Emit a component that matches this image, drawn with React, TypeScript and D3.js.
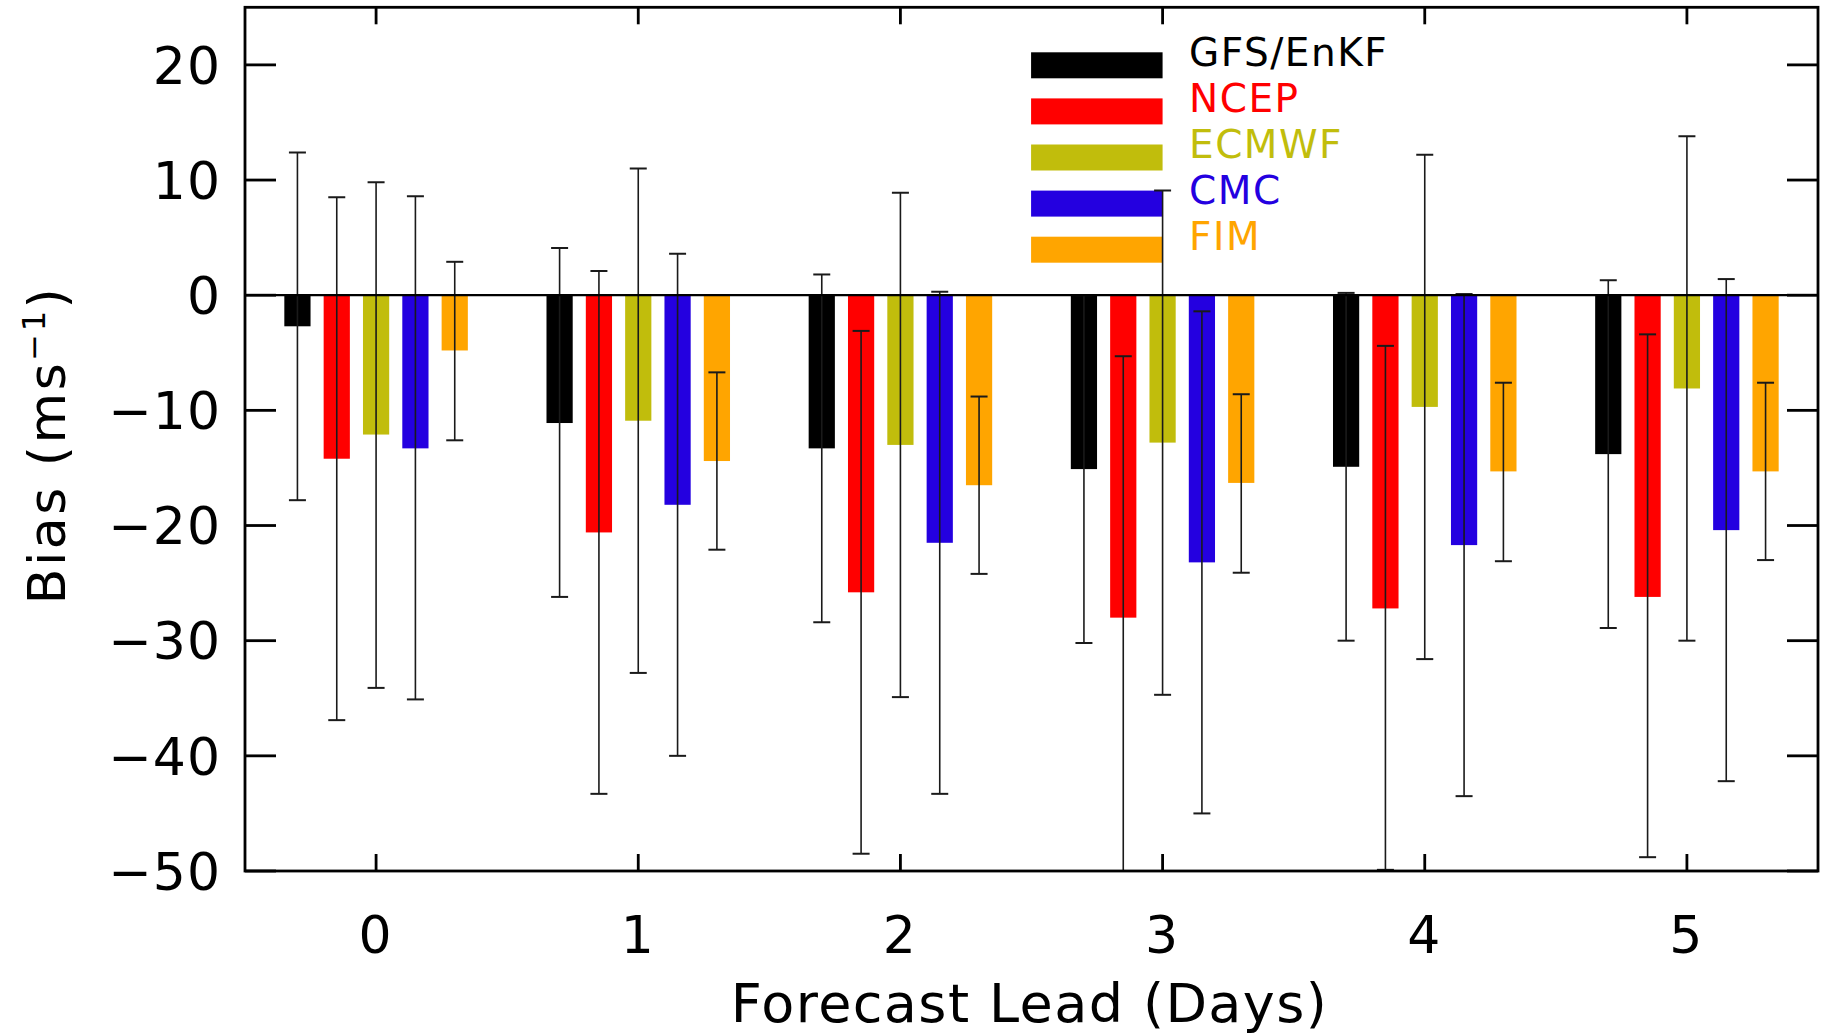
import React from "react";
import * as d3 from "d3";

const days = [0, 1, 2, 3, 4, 5];
const yTicks = [-50, -40, -30, -20, -10, 0, 10, 20];

const seriesNames = ["GFS/EnKF", "NCEP", "ECMWF", "CMC", "FIM"];
const seriesColors = ["#000000", "#ff0000", "#c1bd0c", "#2400e0", "#ffa500"];

const gfsBias = [-2.7, -11.1, -13.3, -15.1, -14.9, -13.8];
const gfsHi = [12.4, 4.1, 1.8, 0.0, 0.2, 1.3];
const gfsLo = [-17.8, -26.2, -28.4, -30.2, -30.0, -28.9];

const ncepBias = [-14.2, -20.6, -25.8, -28.0, -27.2, -26.2];
const ncepHi = [8.5, 2.1, -3.1, -5.3, -4.4, -3.4];
const ncepLo = [-36.9, -43.3, -48.5, -50.7, -49.9, -48.8];

const ecmwfBias = [-12.1, -10.9, -13.0, -12.8, -9.7, -8.1];
const ecmwfHi = [9.8, 11.0, 8.9, 9.1, 12.2, 13.8];
const ecmwfLo = [-34.1, -32.8, -34.9, -34.7, -31.6, -30.0];

const cmcBias = [-13.3, -18.2, -21.5, -23.2, -21.7, -20.4];
const cmcHi = [8.6, 3.6, 0.3, -1.4, 0.1, 1.4];
const cmcLo = [-35.1, -40.0, -43.3, -45.0, -43.5, -42.2];

const fimBias = [-4.8, -14.4, -16.5, -16.3, -15.3, -15.3];
const fimHi = [2.9, -6.7, -8.8, -8.6, -7.6, -7.6];
const fimLo = [-12.6, -22.1, -24.2, -24.1, -23.1, -23.0];

const biasSets = [gfsBias, ncepBias, ecmwfBias, cmcBias, fimBias];
const hiSets = [gfsHi, ncepHi, ecmwfHi, cmcHi, fimHi];
const loSets = [gfsLo, ncepLo, ecmwfLo, cmcLo, fimLo];
const offsets = [-0.3, -0.15, 0, 0.15, 0.3];
const barWidthDays = 0.1;

const W = 1829;
const H = 1036;
const L = 245;
const R = 1818;
const T = 7.3;
const B = 871;
const FONT = "'DejaVu Sans', sans-serif";

export default function App() {
  const x = d3.scaleLinear().domain([-0.5, 5.5]).range([L, R]);
  const y = d3.scaleLinear().domain([-50, 25]).range([B, T]);
  const bw = x(barWidthDays) - x(0);
  const capW = 17;

  const bars: any[] = [];
  const errs: any[] = [];
  seriesNames.forEach((name, si) => {
    days.forEach((d, di) => {
      const cx = x(d + offsets[si]);
      const v = biasSets[si][di];
      bars.push(
        <rect
          key={`b-${si}-${di}`}
          x={cx - bw / 2}
          y={Math.min(y(0), y(v))}
          width={bw}
          height={Math.abs(y(v) - y(0))}
          fill={seriesColors[si]}
        />
      );
      const hi = hiSets[si][di];
      const lo = loSets[si][di];
      errs.push(
        <g key={`e-${si}-${di}`} stroke="#1a1a1a">
          <line x1={cx} x2={cx} y1={y(hi)} y2={y(lo)} strokeWidth={1.6} />
          <line x1={cx - capW / 2} x2={cx + capW / 2} y1={y(hi)} y2={y(hi)} strokeWidth={2} />
          <line x1={cx - capW / 2} x2={cx + capW / 2} y1={y(lo)} y2={y(lo)} strokeWidth={2} />
        </g>
      );
    });
  });

  const legX0 = x(3) - 131.5;
  const legX1 = x(3);
  const legTop = 52.3;
  const legStep = 46.1;
  const legH = 26;

  return (
    <svg
      width={W}
      height={H}
      style={{ position: "absolute", left: 0, top: 0, background: "#fff" }}
      fontFamily={FONT}
    >
      <rect x={0} y={0} width={W} height={H} fill="#fff" />
      <defs>
        <clipPath id="plotclip">
          <rect x={L} y={T} width={R - L} height={B - T} />
        </clipPath>
      </defs>
      <g clipPath="url(#plotclip)">
        {bars}
      </g>
      {/* legend */}
      {seriesNames.map((n, i) => (
        <g key={`leg-${i}`}>
          <rect
            x={legX0}
            y={legTop + i * legStep}
            width={legX1 - legX0}
            height={legH}
            fill={seriesColors[i]}
          />
          <text
            x={1189}
            y={legTop + i * legStep + legH - 12.6}
            fontSize={39}
            fill={seriesColors[i]}
            letterSpacing={1.5}
          >
            {n}
          </text>
        </g>
      ))}
      <g clipPath="url(#plotclip)">{errs}</g>
      {/* zero line */}
      <line x1={L} x2={R} y1={y(0)} y2={y(0)} stroke="#000" strokeWidth={2.2} />
      {/* frame */}
      <rect x={L} y={T} width={R - L} height={B - T} fill="none" stroke="#000" strokeWidth={2.8} />
      {/* y ticks */}
      {yTicks.map((t) => (
        <g key={`yt-${t}`}>
          <line x1={L} x2={L + 31} y1={y(t)} y2={y(t)} stroke="#000" strokeWidth={2.8} />
          <line x1={R} x2={R - 31} y1={y(t)} y2={y(t)} stroke="#000" strokeWidth={2.8} />
          <text
            x={221}
            y={y(t)}
            dy="0.36em"
            fontSize={52}
            textAnchor="end"
            fill="#000"
            letterSpacing={1}
          >
            {t < 0 ? `\u2212${Math.abs(t)}` : `${t}`}
          </text>
        </g>
      ))}
      {/* x ticks */}
      {days.map((d) => (
        <g key={`xt-${d}`}>
          <line x1={x(d)} x2={x(d)} y1={B} y2={B - 17} stroke="#000" strokeWidth={2.8} />
          <line x1={x(d)} x2={x(d)} y1={T} y2={T + 17} stroke="#000" strokeWidth={2.8} />
          <text x={x(d) - 1} y={953} fontSize={52} textAnchor="middle" fill="#000">
            {d}
          </text>
        </g>
      ))}
      {/* axis titles */}
      <text
        x={(L + R) / 2 - 2}
        y={1022}
        fontSize={54}
        textAnchor="middle"
        fill="#000"
        letterSpacing={1.4}
      >
        Forecast Lead (Days)
      </text>
      <text
        transform={`translate(65,445) rotate(-90)`}
        fontSize={52}
        textAnchor="middle"
        fill="#000"
        letterSpacing={2.5}
      >
        Bias (ms
        <tspan dy={-20} fontSize={32}>{"\u22121"}</tspan>
        <tspan dy={20}>)</tspan>
      </text>
    </svg>
  );
}
